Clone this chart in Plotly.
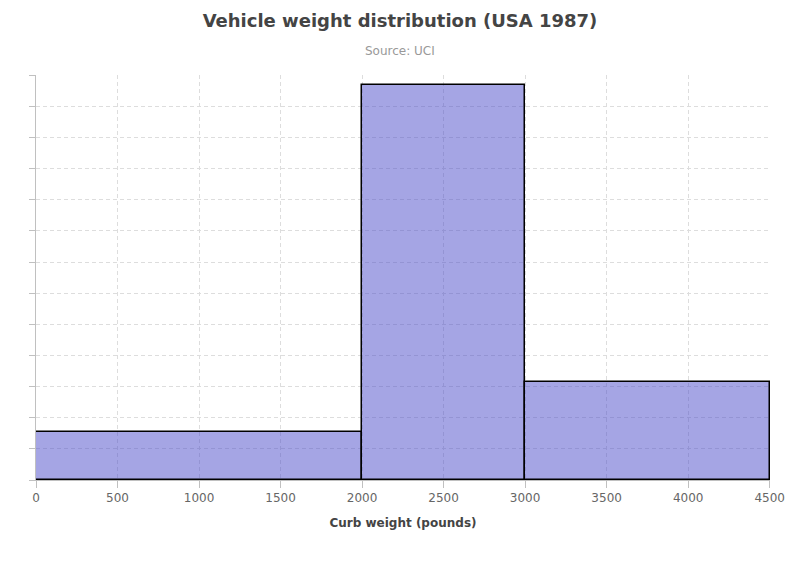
import plotly.graph_objects as go

# --- Data: curb weight bins (pounds) and vehicle counts ---
bin_starts = [0, 2000, 3000]
bin_ends = [2000, 3000, 4500]
counts = [31, 127, 47]

x_ticks = [0, 500, 1000, 1500, 2000, 2500, 3000, 3500, 4000, 4500]

# histogram with unequal bins -> height is count per pound
widths = [e - s for s, e in zip(bin_starts, bin_ends)]
mids = [s + w / 2 for s, w in zip(bin_starts, widths)]
density = [c / w for c, w in zip(counts, widths)]

W, H = 784, 554   # page body has an 8px margin
fig = go.Figure()

fig.add_trace(go.Bar(
    x=mids,
    y=density,
    width=widths,
    customdata=counts,
    marker=dict(color="rgba(72,72,200,0.49)", line=dict(color="#000000", width=1.5)),
    hovertemplate="%{customdata} vehicles<extra></extra>",
))

fig.update_layout(
    width=W,
    height=H,
    paper_bgcolor="white",
    plot_bgcolor="white",
    showlegend=False,
    font=dict(family="DejaVu Sans", color="#666666", size=12),
    title=dict(
        text="<b>Vehicle weight distribution (USA 1987)</b>",
        x=392 / W, xanchor="center",
        y=1 - 13 / H, yanchor="middle",
        font=dict(size=18, color="#444444"),
    ),
    annotations=[dict(
        text="Source: UCI",
        xref="paper", yref="paper",
        x=(392 - 28) / 734, y=1 + 24 / 405,
        xanchor="center", yanchor="middle",
        showarrow=False,
        font=dict(size=12, color="#999999"),
    )],
    margin=dict(l=28, r=22, t=67, b=82),
    bargap=0,
)

fig.update_xaxes(
    range=[0, 4502],
    tickvals=x_ticks,
    automargin=False,
    showgrid=True,
    gridcolor="#dddddd",
    griddash="4px,3px",
    gridwidth=1,
    ticks="outside",
    ticklen=7,
    tickcolor="#c0c0c0",
    showline=True,
    linecolor="#c0c0c0",
    zeroline=False,
    tickfont=dict(size=12, color="#666666"),
    title=dict(text="<b>Curb weight (pounds)</b>", font=dict(size=12, color="#444444"), standoff=14),
)

fig.update_yaxes(
    range=[0, 0.1301],
    tick0=0,
    dtick=0.01,
    automargin=False,
    showticklabels=False,
    showgrid=True,
    gridcolor="#dddddd",
    griddash="4px,3px",
    gridwidth=1,
    ticks="outside",
    ticklen=6,
    tickcolor="#c0c0c0",
    showline=True,
    linecolor="#c0c0c0",
    zeroline=False,
)

fig.write_html("out.html")
